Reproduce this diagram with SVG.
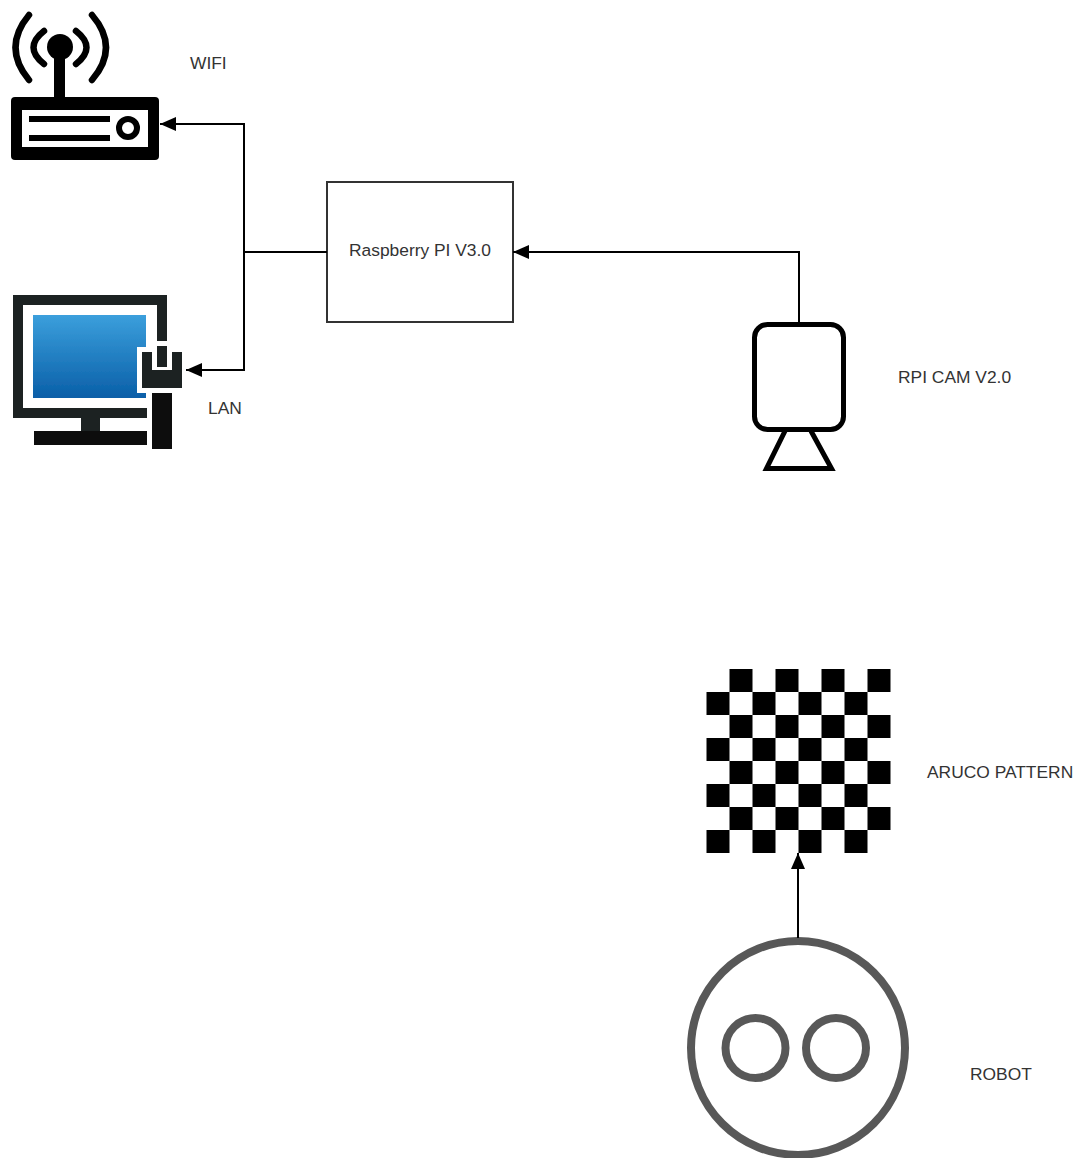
<svg xmlns="http://www.w3.org/2000/svg" width="1078" height="1158" viewBox="0 0 1078 1158">
<style>
text{font-family:"Liberation Sans",Arial,sans-serif;font-size:17.4px;fill:#333}
.conn{fill:none;stroke:#000;stroke-width:2}
.ring{fill:none;stroke:#595959;stroke-width:8}
.wave{fill:none;stroke:#000;stroke-width:6.500;stroke-linecap:round}
</style>
<defs>
<filter id="soft" x="-5%" y="-5%" width="110%" height="110%"><feGaussianBlur stdDeviation="0.6"/></filter>
<marker id="arrow" markerUnits="userSpaceOnUse" markerWidth="17" markerHeight="14" refX="16" refY="7" orient="auto">
<path d="M0 0L16 7L0 14Z" fill="#000"/>
</marker>
<linearGradient id="screen" x1="0" y1="0" x2="0" y2="1">
<stop offset="0" stop-color="#3b9fdc"/><stop offset="1" stop-color="#0a5fa8"/>
</linearGradient>
<path id="rowA" d="M729.500 0h23v23h-23zM775.500 0h23v23h-23zM821.500 0h23v23h-23zM867.500 0h23v23h-23z"/>
<path id="rowB" d="M706.500 0h23v23h-23zM752.500 0h23v23h-23zM798.500 0h23v23h-23zM844.500 0h23v23h-23z"/>
</defs>
<rect width="1078" height="1158" fill="#fff"/>
<g id="wifi">
<g filter="url(#soft)">
<path class="wave" d="M44 31Q23 47.500 44 64M76 31Q97 47.500 76 64M29 15Q2 47.500 29 80M92 15Q120 47.500 92 80"/>
<circle cx="60" cy="47" r="13"/>
<rect x="54" y="50" width="11" height="50"/>
<rect x="11" y="97" width="148" height="63" rx="4"/>
<rect x="22" y="110" width="126" height="37" fill="#fff"/>
<rect x="29" y="116" width="81" height="6"/><rect x="29" y="135" width="81" height="6"/>
<circle cx="128" cy="128" r="9" fill="#fff" stroke="#000" stroke-width="6"/>
</g>
<text x="190" y="69">WIFI</text>
</g>
<g id="lan">
<g filter="url(#soft)">
<path d="M13 295H167V341H157V305H23V408H147V418H13Z" fill="#1f2224"/>
<rect x="33" y="315" width="113" height="83" fill="url(#screen)"/>
<rect x="137" y="347" width="50" height="46" fill="#fff"/>
<path d="M142 352H152V370H172V352H182V388H142Z" fill="#1f2224"/>
<rect x="157" y="346" width="10" height="21" fill="#1f2224"/>
<rect x="152" y="393" width="20" height="56" fill="#0a0a0a"/>
<rect x="81" y="418" width="19" height="13" fill="#1f2224"/>
<rect x="34" y="431" width="113" height="14" fill="#0a0a0a"/>
</g>
<text x="208" y="414">LAN</text>
</g>
<g id="raspberry">
<rect x="327" y="182" width="186" height="140" fill="#fff" stroke="#333" stroke-width="2"/>
<text x="420" y="256" text-anchor="middle">Raspberry PI V3.0</text>
</g>
<g id="camera">
<g filter="url(#soft)">
<rect x="754.500" y="324.500" width="89" height="105" rx="13" fill="#fff" stroke="#000" stroke-width="5"/>
<path d="M785 431L766.500 468.500H831.500L811 431" fill="none" stroke="#000" stroke-width="5"/>
</g>
<text x="898" y="383">RPI CAM V2.0</text>
</g>
<g id="aruco">
<g filter="url(#soft)">
<use href="#rowA" y="669"/><use href="#rowB" y="692"/>
<use href="#rowA" y="715"/><use href="#rowB" y="738"/>
<use href="#rowA" y="761"/><use href="#rowB" y="784"/>
<use href="#rowA" y="807"/><use href="#rowB" y="830"/>
</g>
<text x="927" y="778">ARUCO PATTERN</text>
</g>
<g id="robot">
<g filter="url(#soft)">
<circle class="ring" cx="798" cy="1048" r="107"/>
<circle class="ring" cx="755.500" cy="1048" r="30"/>
<circle class="ring" cx="836" cy="1048" r="30"/>
</g>
<text x="970" y="1080">ROBOT</text>
</g>
<g id="connectors">
<path class="conn" d="M327 252H244V124H160" marker-end="url(#arrow)"/>
<path class="conn" d="M244 252V370H186" marker-end="url(#arrow)"/>
<path class="conn" d="M799 322V252H513" marker-end="url(#arrow)"/>
<path class="conn" d="M798 938V853" marker-end="url(#arrow)"/>
</g>
</svg>
